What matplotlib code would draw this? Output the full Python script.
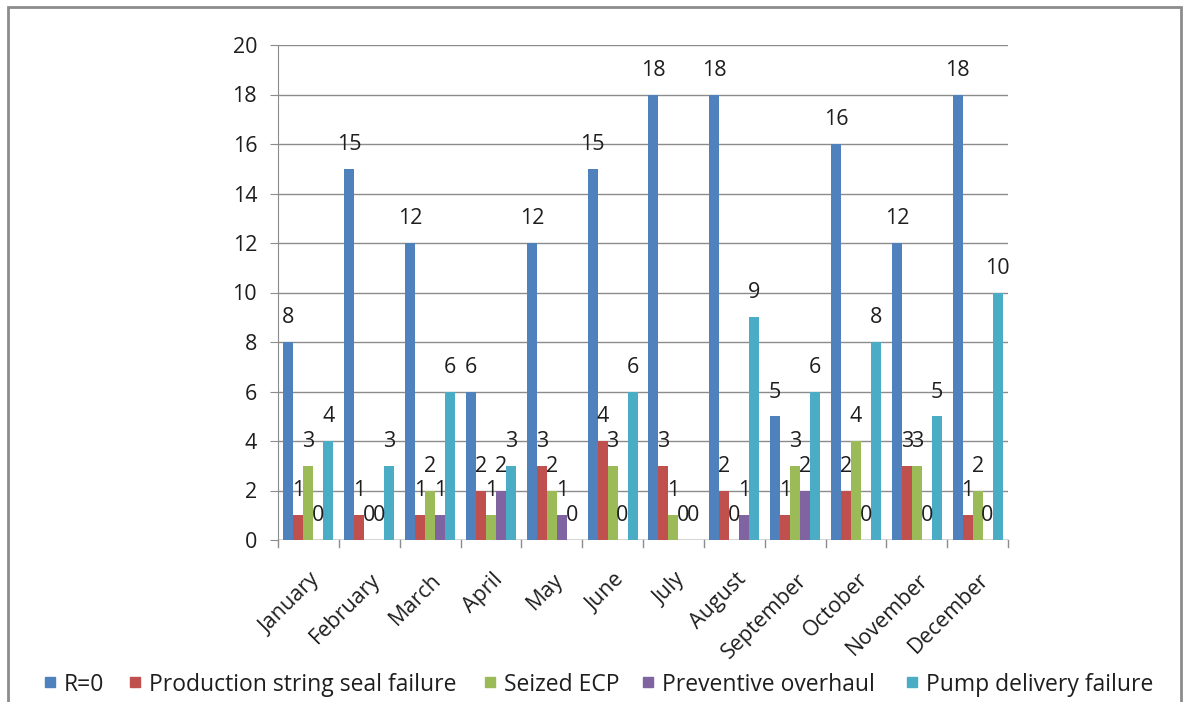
import matplotlib
matplotlib.use("Agg")
import matplotlib.pyplot as plt
import numpy as np
from matplotlib.lines import Line2D
import matplotlib.transforms as mtransforms

months = ["January", "February", "March", "April", "May", "June", "July",
          "August", "September", "October", "November", "December"]
r0 = [8, 15, 12, 6, 12, 15, 18, 18, 5, 16, 12, 18]
seal_failure = [1, 1, 1, 2, 3, 4, 3, 2, 1, 2, 3, 1]
seized_ecp = [3, 0, 2, 1, 2, 3, 1, 0, 3, 4, 3, 2]
preventive = [0, 0, 1, 2, 1, 0, 0, 1, 2, 0, 0, 0]
pump_delivery = [4, 3, 6, 3, 0, 6, 0, 9, 6, 8, 5, 10]

series_names = ["R=0", "Production string seal failure", "Seized ECP",
                "Preventive overhaul", "Pump delivery failure"]
series = [r0, seal_failure, seized_ecp, preventive, pump_delivery]
colors = ["#4F81BD", "#C0504D", "#9BBB59", "#8064A2", "#4BACC6"]

plt.rcParams['font.family'] = ['Open Sans', 'DejaVu Sans']
FS = 15.5
LFS = 16.5
TXT = "#1E1E1E"
GRID = "#8C8C8C"

W, H = 1184, 702
fig = plt.figure(figsize=(W / 100, H / 100), dpi=100)
ax = fig.add_axes([278 / W, 1 - 540 / H, (1008 - 278) / W, (540 - 45) / H])

x = np.arange(len(months))
bw = 0.164
for i, (vals, name, c) in enumerate(zip(series, series_names, colors)):
    offs = (i - 2) * bw
    ax.bar(x + offs, vals, width=bw, color=c, label=name, zorder=3)
    for xi, v in zip(x, vals):
        ax.annotate(str(v), (xi + offs, v), xytext=(0, 13.5),
                    textcoords="offset points", ha="center", va="baseline",
                    fontsize=FS, color=TXT, zorder=4)

ax.set_xlim(-0.5, len(months) - 0.5)
ax.set_ylim(0, 20)
ax.set_yticks(np.arange(0, 21, 2))
ax.yaxis.grid(True, color=GRID, linewidth=1.0, zorder=0)
ax.set_axisbelow(True)
for s in ["top", "right", "bottom"]:
    ax.spines[s].set_visible(False)
ax.spines["left"].set_color(GRID)
ax.axhline(0, color=GRID, linewidth=1.0, zorder=2)

ax.tick_params(axis="y", length=6, color=GRID, labelsize=FS,
               labelcolor=TXT, pad=9)
ax.set_xticks(x)
ax.set_xticklabels(months, rotation=45, ha="right", rotation_mode="anchor",
                   fontsize=FS, color=TXT)
ax.tick_params(axis="x", length=0, pad=21)
offset = mtransforms.ScaledTranslation(1 / 100, 0, fig.dpi_scale_trans)
for lbl in ax.get_xticklabels():
    lbl.set_transform(lbl.get_transform() + offset)

# category separator ticks below axis
for b in np.arange(-0.5, len(months) + 0.5, 1):
    ax.add_line(Line2D([b, b], [0, -0.3], color=GRID, linewidth=1.0,
                       clip_on=False))

# legend laid out in one row along the bottom
marker_px = [45, 130, 485, 643, 907]
ly = 682
msz = 10
for mx, name, c in zip(marker_px, series_names, colors):
    fig.patches.append(plt.Rectangle((mx / W, 1 - (ly + msz / 2) / H), msz / W, msz / H,
                                     transform=fig.transFigure, color=c))
    fig.text((mx + msz + 9) / W, 1 - ly / H, name, fontsize=LFS, color=TXT,
             ha="left", va="center_baseline")

# outer chart border
border = plt.Rectangle((8 / W, -0.01), (1181 - 8) / W, (H - 7) / H + 0.01,
                       transform=fig.transFigure, fill=False,
                       edgecolor=GRID, linewidth=2.0)
fig.patches.append(border)

fig.savefig("out.png", dpi=100)
